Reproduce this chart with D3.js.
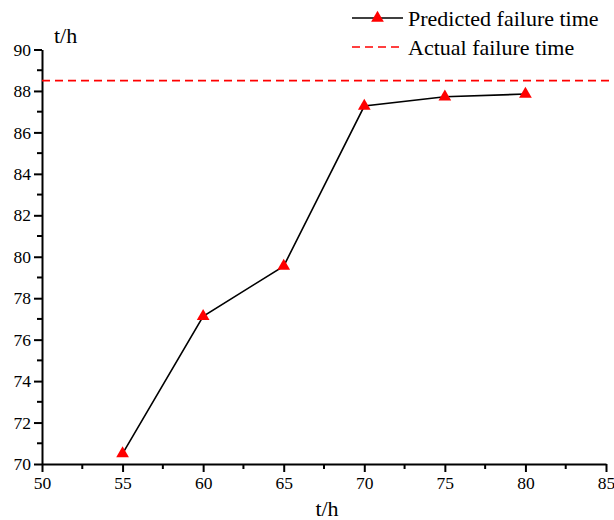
<!DOCTYPE html>
<html>
<head>
<meta charset="utf-8">
<script src="https://cdn.jsdelivr.net/npm/d3@7/dist/d3.min.js"></script>
<style>
  html, body { margin: 0; padding: 0; background: #fff; }
  svg { display: block; font-family: "Liberation Serif", "Times New Roman", serif; }
</style>
</head>
<body>
<svg id="chart" width="614" height="520"></svg>
<script>
// Prediction time (h) and predicted failure time (h)
const times = [55, 60, 65, 70, 75, 80];
const predicted = [70.5, 77.12, 79.55, 87.27, 87.72, 87.85];
const actualFailure = 88.5;
const xTicks = [50, 55, 60, 65, 70, 75, 80, 85];
const yTicks = [70, 72, 74, 76, 78, 80, 82, 84, 86, 88, 90];
const seriesNames = ["Predicted failure time", "Actual failure time"];
const axisTitle = "t/h";

const svg = d3.select("#chart");
const plotLeft = 42, plotRight = 606, plotTop = 49.5, plotBottom = 464;

const x = d3.scaleLinear().domain([50, 85]).range([plotLeft, plotRight]);
const y = d3.scaleLinear().domain([70, 90]).range([plotBottom, plotTop]);

// minor ticks
const xMinor = d3.range(52.5, 85, 5);
const yMinor = d3.range(71, 90, 2);

const gx = svg.append("g").attr("transform", `translate(0,${plotBottom})`);
gx.call(d3.axisBottom(x).tickValues(xTicks).tickSize(8).tickSizeOuter(0).tickPadding(5).tickFormat(d3.format("d")));
gx.append("g").selectAll("line").data(xMinor).join("line")
  .attr("x1", d => x(d)).attr("x2", d => x(d)).attr("y1", 0).attr("y2", 5)
  .attr("stroke", "#000").attr("stroke-width", 2);

const gy = svg.append("g").attr("transform", `translate(${plotLeft},0)`);
gy.call(d3.axisLeft(y).tickValues(yTicks).tickSize(8).tickSizeOuter(0).tickPadding(3).tickFormat(d3.format("d")));
gy.append("g").selectAll("line").data(yMinor).join("line")
  .attr("y1", d => y(d)).attr("y2", d => y(d)).attr("x1", 0).attr("x2", -5)
  .attr("stroke", "#000").attr("stroke-width", 2);

svg.selectAll(".domain").attr("stroke", "#000").attr("stroke-width", 2);
svg.selectAll(".tick line").attr("stroke", "#000").attr("stroke-width", 2);
svg.selectAll(".tick text").attr("fill", "#000").attr("font-size", 17.5)
  .attr("font-family", "Liberation Serif, Times New Roman, serif");

// axis titles
svg.append("text").attr("x", 327).attr("y", 516)
  .attr("text-anchor", "middle").attr("font-size", 22).text(axisTitle);
svg.append("text").attr("x", 54).attr("y", 43)
  .attr("font-size", 22).text(axisTitle);

// actual failure time reference line
svg.append("line")
  .attr("x1", plotLeft).attr("x2", plotRight + 8)
  .attr("y1", y(actualFailure)).attr("y2", y(actualFailure))
  .attr("stroke", "#ff0000").attr("stroke-width", 1.6).attr("stroke-dasharray", "8,5");

// predicted series
const line = d3.line().x((d, i) => x(times[i])).y(d => y(d));
svg.append("path").datum(predicted).attr("d", line)
  .attr("fill", "none").attr("stroke", "#000").attr("stroke-width", 1.6);

const tri = d3.symbol().type(d3.symbolTriangle).size(70);
svg.append("g").selectAll("path").data(predicted).join("path")
  .attr("d", tri)
  .attr("transform", (d, i) => `translate(${x(times[i])},${y(d)})`)
  .attr("fill", "#ff0000");

// legend
const lg = svg.append("g");
lg.append("line").attr("x1", 352).attr("x2", 403).attr("y1", 18).attr("y2", 18)
  .attr("stroke", "#000").attr("stroke-width", 1.6);
lg.append("path").attr("d", tri).attr("transform", "translate(377.5,18)").attr("fill", "#ff0000");
lg.append("text").attr("x", 408).attr("y", 26).attr("font-size", 22).text(seriesNames[0]);
lg.append("line").attr("x1", 352).attr("x2", 403).attr("y1", 47).attr("y2", 47)
  .attr("stroke", "#ff0000").attr("stroke-width", 1.6).attr("stroke-dasharray", "8,5");
lg.append("text").attr("x", 408).attr("y", 55).attr("font-size", 22).text(seriesNames[1]);
</script>
</body>
</html>
